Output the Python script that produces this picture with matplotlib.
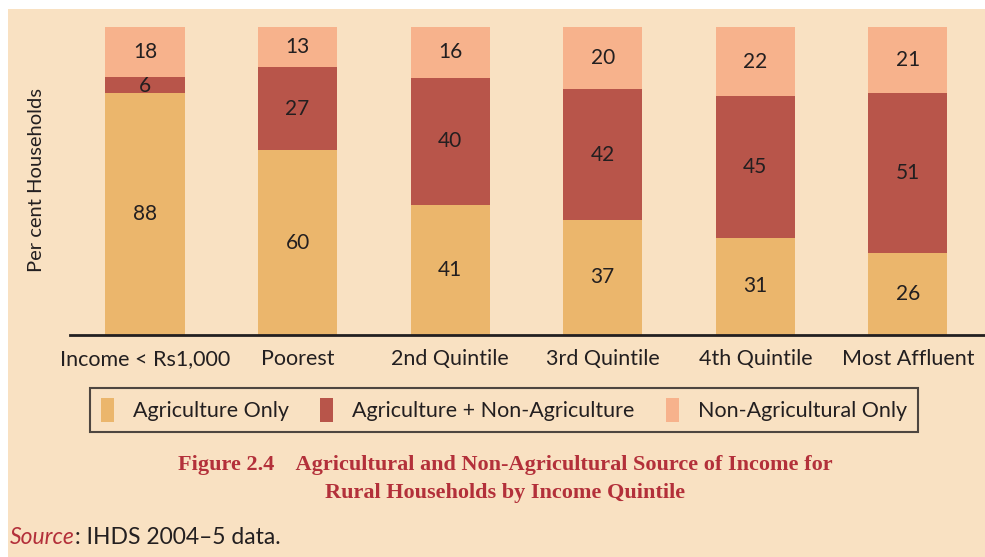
import numpy as np
import matplotlib.pyplot as plt
from matplotlib.patches import Rectangle, Patch

# data
categories = ['Income < Rs1,000', 'Poorest', '2nd Quintile', '3rd Quintile', '4th Quintile', 'Most Affluent']
agri_only = [88, 60, 41, 37, 31, 26]
agri_nonagri = [6, 27, 40, 42, 45, 51]
nonagri_only = [18, 13, 16, 20, 22, 21]
series_names = ['Agriculture Only', 'Agriculture + Non-Agriculture', 'Non-Agricultural Only']

bg = '#F9E1C2'
colors = ['#EBB66C', '#B8554A', '#F7B28C']
txt = '#231F20'
red = '#B3303A'
font = 'Lato'

W, H = 985, 557
fig = plt.figure(figsize=(W / 100, H / 100), dpi=100, facecolor='white')
fig.patches.append(Rectangle((8 / W, 0), 1, 1 - 9 / H, transform=fig.transFigure,
                             facecolor=bg, edgecolor='none', zorder=-10))

ax = fig.add_axes([70 / W, 1 - 335 / H, 915 / W, 308 / H])
ax.patch.set_alpha(0)

data = np.array([agri_only, agri_nonagri, nonagri_only], dtype=float)
totals = data.sum(axis=0)
frac = data / totals
x = np.arange(len(categories))
bottom = np.zeros(len(categories))
for i in range(3):
    ax.bar(x, frac[i], 0.518, bottom=bottom, color=colors[i], edgecolor='none')
    for j in range(len(categories)):
        yc = bottom[j] + frac[i][j] / 2
        if i == 1 and j == 0:
            yc = bottom[j] + frac[i][j] / 2 - 0.005
        ax.text(x[j], yc, f'{int(data[i][j])}', ha='center', va='center',
                fontsize=15, color=txt, family=font)
    bottom += frac[i]

ax.set_xlim(-0.4915, 5.505)
ax.set_ylim(0, 1)
for s in ['top', 'right', 'left']:
    ax.spines[s].set_visible(False)
ax.spines['bottom'].set_linewidth(2)
ax.spines['bottom'].set_color(txt)
ax.set_yticks([])
ax.set_xticks(x)
ax.set_xticklabels(categories, fontsize=15.5, color=txt, family=font)
ax.tick_params(axis='x', length=0, pad=10)

fig.text(37 / W, 1 - 180 / H, 'Per cent Households', rotation=90, ha='center', va='center',
         fontsize=14.5, color=txt, family=font)

handles = [Patch(facecolor=c, edgecolor='none') for c in colors]
leg = fig.legend(handles, series_names, loc='center', bbox_to_anchor=(504 / W, 1 - 410 / H),
                 ncol=3, frameon=True, handlelength=0.6, handleheight=1.3,
                 columnspacing=1.45, handletextpad=0.9, borderpad=0.5, prop={'family': font, 'size': 15.5})
leg.get_frame().set_facecolor(bg)
leg.get_frame().set_edgecolor(txt)
leg.get_frame().set_linewidth(1.5)
leg.get_frame().set_boxstyle('square', pad=0)
for t in leg.get_texts():
    t.set_color(txt)

fig.text(505 / W, 1 - 465 / H, 'Figure 2.4    Agricultural and Non-Agricultural Source of Income for',
         ha='center', va='center', fontsize=16, color=red, family='Liberation Serif', weight='bold')
fig.text(505 / W, 1 - 493 / H, 'Rural Households by Income Quintile',
         ha='center', va='center', fontsize=16, color=red, family='Liberation Serif', weight='bold')

t1 = fig.text(10 / W, 1 - 537 / H, 'Source', ha='left', va='center', fontsize=16.5,
              color=red, family=font, style='italic')
fig.canvas.draw()
bb = t1.get_window_extent()
fig.text(bb.x1 / W, 1 - 537 / H, ': IHDS 2004\u20135 data.', ha='left', va='center',
         fontsize=16.5, color=txt, family=font)

fig.savefig('out.png', dpi=100, facecolor='white')
